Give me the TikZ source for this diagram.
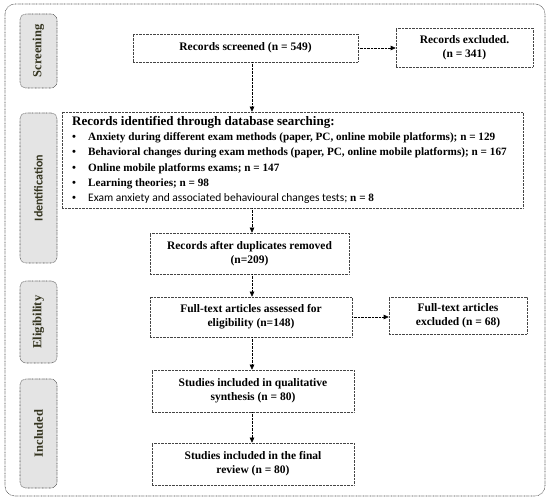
\documentclass[tikz,border=0pt]{standalone}
\usepackage{fontspec}
\setmainfont{Liberation Serif}
\newfontfamily\calib{Carlito}
\usetikzlibrary{arrows.meta}
\definecolor{sidefill}{HTML}{E4E4E4}
\definecolor{sidetext}{HTML}{34341F}
\definecolor{lineclr}{HTML}{454545}
\tikzset{
  dotline/.style={draw=lineclr, line width=0.55pt, dash pattern=on 0.7pt off 0.7pt},
  mainbox/.style={dotline, align=center, font=\bfseries\fontsize{11.5}{14}\selectfont, inner sep=2pt},
  sidebox/.style={dotline, fill=sidefill, rounded corners=6pt, minimum width=37pt},
  sidelabel/.style={rotate=90, font=\bfseries\fontsize{12.5}{13}\selectfont, text=sidetext},
  arr/.style={dotline, -{Triangle[length=5pt,width=4.5pt]}, draw=black},
}
\begin{document}
\begin{tikzpicture}[x=1pt,y=-1pt]
\useasboundingbox (0,0) rectangle (550,500);
\draw[dotline, rounded corners=10pt] (5,4) rectangle (545,496);
% side boxes
\node[sidebox, minimum height=74pt] (s1) at (38.5,51) {};
\node[sidelabel] (s1t) at (s1) {Screening};
\node[sidebox, minimum height=150pt] (s2) at (38.5,188) {};
\node[sidelabel, font=\calib\bfseries\fontsize{12}{13}\selectfont] (s2t) at (s2) {Identification};
\node[sidebox, minimum height=82pt] (s3) at (38.5,322) {};
\node[sidelabel] (s3t) at (s3) {Eligibility};
\node[sidebox, minimum height=109pt] (s4) at (38.5,433.5) {};
\node[sidelabel] (s4t) at (s4) {Included};
% main boxes
\node[mainbox, minimum width=225pt, minimum height=28pt] (scr) at (245.5,48) {Records screened (n = 549)};
\node[mainbox, minimum width=137pt, minimum height=39pt] (exc) at (464.5,47.5) {Records excluded.\\(n = 341)};
\node[dotline, minimum width=461pt, minimum height=96pt, inner sep=0pt] (idf) at (292.5,160) {};
\node[anchor=west, align=left, inner sep=0pt, font=\bfseries\fontsize{11.2}{15.2}\selectfont] (idt) at (72,160) {%
{\fontsize{13}{14}\selectfont Records identified through database searching:}\\
\makebox[16pt][l]{\textbullet}Anxiety during different exam methods (paper, PC, online mobile platforms); n = 129\\
\makebox[16pt][l]{\textbullet}Behavioral changes during exam methods (paper, PC, online mobile platforms); n = 167\\
\makebox[16pt][l]{\textbullet}Online mobile platforms exams; n = 147\\
\makebox[16pt][l]{\textbullet}Learning theories; n = 98\\
\makebox[16pt][l]{\textbullet}{\calib\mdseries\fontsize{11.5}{15.2}\selectfont Exam anxiety and associated behavioural changes tests;} n = 8};
\node[mainbox, minimum width=199pt, minimum height=41pt] (dup) at (249.5,253.5) {Records after duplicates removed\\(n=209)};
\node[mainbox, minimum width=202pt, minimum height=40pt] (ass) at (251,317) {Full-text articles assessed for\\eligibility (n=148)};
\node[mainbox, minimum width=138pt, minimum height=37pt] (fte) at (458,315.5) {Full-text articles\\excluded (n = 68)};
\node[mainbox, minimum width=202pt, minimum height=42pt] (qual) at (253,391) {Studies included in qualitative\\synthesis (n = 80)};
\node[mainbox, minimum width=202pt, minimum height=42pt] (fin) at (253,464) {Studies included in the final\\review (n = 80)};
% arrows
\coordinate (ax) at (252,0);
\draw[arr] (scr.east) -- (scr.east -| exc.west);
\draw[arr] (scr.south -| ax) -- (idf.north -| ax);
\draw[arr] (idf.south -| ax) -- (dup.north -| ax);
\draw[arr] (dup.south -| ax) -- (ass.north -| ax);
\draw[arr] (ass.east) -- (ass.east -| fte.west);
\draw[arr] (ass.south -| ax) -- (qual.north -| ax);
\draw[arr] (qual.south -| ax) -- (fin.north -| ax);
\end{tikzpicture}
\end{document}
